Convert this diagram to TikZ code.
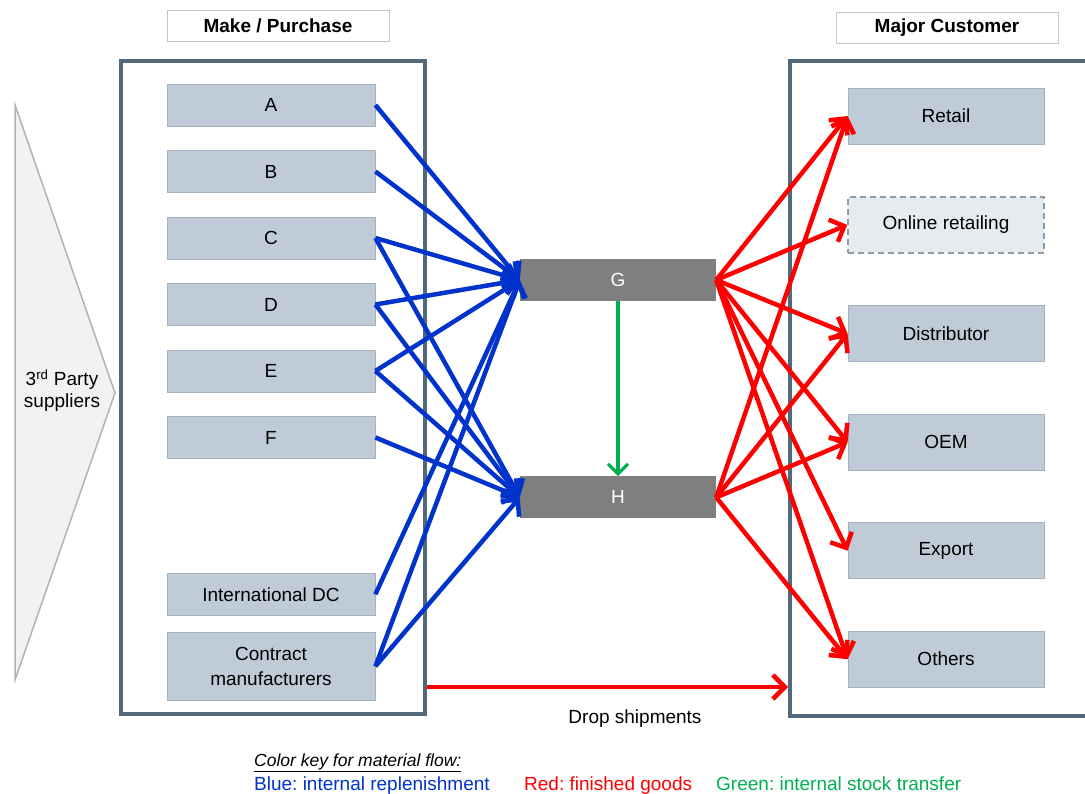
\documentclass[tikz,border=0pt]{standalone}
\usepackage{fontspec}
\setmainfont{Liberation Sans}
\usetikzlibrary{arrows.meta,positioning}
\definecolor{framegray}{HTML}{51697A}
\definecolor{boxfill}{HTML}{BFCCD7}
\definecolor{boxline}{HTML}{A5B3BE}
\definecolor{onlinefill}{HTML}{E6EBF0}
\definecolor{onlineline}{HTML}{8C9BA8}
\definecolor{hubgray}{HTML}{7F7F7F}
\definecolor{flowblue}{HTML}{0033CC}
\definecolor{flowred}{HTML}{FF0000}
\definecolor{flowgreen}{HTML}{00B050}
\frenchspacing

\begin{document}
\begin{tikzpicture}[
    x=1pt, y=-1pt,
    node distance=23.7pt and 2cm,
    font=\fontsize{19}{22}\selectfont,
    frame/.style={draw=framegray, line width=4pt},
    header/.style={rectangle, draw=gray!45, line width=0.8pt, fill=white, minimum width=222pt, minimum height=31pt, inner sep=0pt, font=\fontsize{19}{22}\selectfont\bfseries},
    src/.style={rectangle, draw=boxline, line width=0.8pt, fill=boxfill, minimum width=208pt, minimum height=42pt, inner sep=0pt, align=center},
    hub/.style={rectangle, fill=hubgray, text=white, minimum width=196pt, minimum height=42pt, inner sep=0pt},
    cust/.style={rectangle, draw=boxline, line width=0.8pt, fill=boxfill, minimum width=196pt, minimum height=56pt, inner sep=0pt},
    key/.style={anchor=base west, inner sep=0pt},
    blueflow/.style={-{Straight Barb[length=12pt,width=24pt]}, line width=4.5pt, flowblue},
    redflow/.style={-{Straight Barb[length=12pt,width=24pt]}, line width=4.5pt, flowred},
    greenflow/.style={-{Straight Barb[length=10pt,width=20pt]}, line width=3.2pt, flowgreen}
]
    \useasboundingbox (0,0) rectangle (1085,794);
    \clip (0,0) rectangle (1085,794);

    % Suppliers chevron
    \draw[draw=gray!60, fill=gray!10, line width=1.5pt] (15,105) -- (115,393) -- (15,680) -- cycle;
    \node[align=center] (suppliers) at (62,391) {3\textsuperscript{rd} Party\\suppliers};

    % Frames and headers
    \draw[frame] (121,61) rectangle (425,714);
    \draw[frame] (790,61) rectangle (1100,716);
    \node[header] (makehdr) at (278,25.5) {Make / Purchase};
    \node[header] (custhdr) at (947,28) {Major Customer};

    % Make / Purchase
    \node[src] (a) at (271,105) {A};
    \node[src, below=of a] (b) {B};
    \node[src, below=of b] (c) {C};
    \node[src, below=of c] (d) {D};
    \node[src, below=of d] (e) {E};
    \node[src, below=of e] (f) {F};
    \node[src, below=114pt of f] (intl) {International DC};
    \node[src, below=16.2pt of intl, minimum height=68pt, font=\fontsize{19}{25}\selectfont] (contract) {Contract\\manufacturers};

    % Hubs
    \node[hub] (g) at (618,280) {G};
    \node[hub, below=175pt of g] (h) {H};

    % Major Customer
    \node[cust] (retail) at (946,116) {Retail};
    \node[cust, below=51.7pt of retail, fill=onlinefill, draw=onlineline, line width=1.5pt, dash pattern=on 6pt off 4pt] (online) {Online retailing};
    \node[cust, below=51.7pt of online] (distrib) {Distributor};
    \node[cust, below=51.7pt of distrib] (oem) {OEM};
    \node[cust, below=51.7pt of oem] (export) {Export};
    \node[cust, below=51.7pt of export] (others) {Others};

    % Internal replenishment
    \draw[blueflow] (a.east) -- (g.west);
    \draw[blueflow] (b.east) -- (g.west);
    \draw[blueflow] (c.east) -- (g.west);
    \draw[blueflow] (c.east) -- (h.west);
    \draw[blueflow] (d.east) -- (g.west);
    \draw[blueflow] (d.east) -- (h.west);
    \draw[blueflow] (e.east) -- (g.west);
    \draw[blueflow] (e.east) -- (h.west);
    \draw[blueflow] (f.east) -- (h.west);
    \draw[blueflow] (intl.east) -- (g.west);
    \draw[blueflow] (contract.east) -- (g.west);
    \draw[blueflow] (contract.east) -- (h.west);

    % Internal stock transfer
    \draw[greenflow] (g.south) -- (h.north);

    % Finished goods
    \draw[redflow] (g.east) -- (retail.west);
    \draw[redflow] (g.east) -- (online.west);
    \draw[redflow] (g.east) -- (distrib.west);
    \draw[redflow] (g.east) -- (oem.west);
    \draw[redflow] (g.east) -- (export.west);
    \draw[redflow] (g.east) -- (others.west);
    \draw[redflow] (h.east) -- (retail.west);
    \draw[redflow] (h.east) -- (distrib.west);
    \draw[redflow] (h.east) -- (oem.west);
    \draw[redflow] (h.east) -- (others.west);

    % Drop shipments
    \coordinate (dropstart) at (427,687);
    \coordinate (dropend) at (788,687);
    \draw[redflow] (dropstart) -- (dropend);
    \node (dropnote) at (635,719) {Drop shipments};

    % Color key
    \node[key, font=\fontsize{17.5}{20}\selectfont\itshape] (keytitle) at (254,766) {\underline{Color key for material flow:}};
    \node[key, text=flowblue] (keyblue) at (254,790) {Blue: internal replenishment};
    \node[key, text=flowred] (keyred) at (524,790) {Red: finished goods};
    \node[key, text=flowgreen] (keygreen) at (716,790) {Green: internal stock transfer};
\end{tikzpicture}
\end{document}
